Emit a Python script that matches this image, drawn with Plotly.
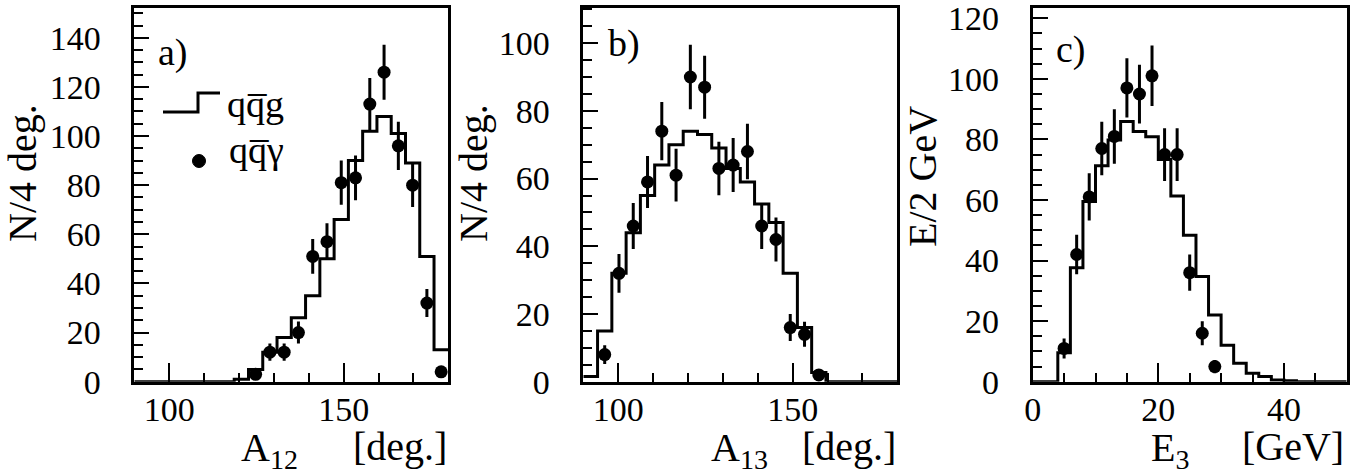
import numpy as np
import plotly.graph_objects as go

# ---------------- data ----------------
# a) opening angle A12: 22 bins over 90..180 deg
a_lo, a_hi, a_nbins = 90.0, 180.0, 22
qqg_a = [0, 0, 0, 0, 0, 0, 0, 1, 5, 12, 18, 26, 35, 50, 66, 90, 102, 108, 101, 89, 51, 13]
qqgam_a = [None, None, None, None, None, None, None, None,
           3, 12, 12, 20, 51, 57, 81, 83, 113, 126, 96, 80, 32, 4]
qqgam_a_err = [None, None, None, None, None, None, None, None,
               1.7, 3.5, 3.5, 4.5, 7.1, 7.5, 9.0, 9.1, 10.6, 11.2, 9.8, 8.9, 5.7, 2.0]

# b) opening angle A13: 22 bins over 90..180 deg
b_lo, b_hi, b_nbins = 90.0, 180.0, 22
qqg_b = [1.5, 15, 32, 44, 55, 64, 70, 74, 73, 69, 63, 59, 52.5, 47, 32, 16, 2.7, 0, 0, 0, 0, 0]
qqgam_b = [None, 8, 32, 46, 59, 74, 61, 90, 87, 63, 64, 68, 46, 42, 16, 14, 2,
           None, None, None, None, None]
qqgam_b_err = [None, 2.8, 5.7, 6.8, 7.7, 8.6, 7.8, 9.5, 9.3, 7.9, 8.0, 8.2, 6.8, 6.5, 4.0, 3.7, 1.4,
               None, None, None, None, None]

# c) energy of the third jet E3: 25 bins over 0..50 GeV
c_lo, c_hi, c_nbins = 0.0, 50.0, 25
qqg_c = [0, 0, 9.6, 37.6, 59.5, 71.3, 79.8, 85.9, 82.6, 80.9, 73.4, 61.3, 48.4, 34.7,
         22, 12, 6.1, 2.8, 1.7, 0.6, 0.3, 0, 0, 0, 0]
qqgam_c = [None, None, 11, 42, 61, 77, 81, 97, 95, 101, 75, 75, 36, 16, 5,
           None, None, None, None, None, None, None, None, None, None]
qqgam_c_err = [None, None, 3.3, 6.5, 7.8, 8.8, 9.0, 9.8, 9.7, 10.0, 8.7, 8.7, 6.0, 4.0, 2.2,
               None, None, None, None, None, None, None, None, None, None]

a_ticks = [100, 150]
b_ticks = [100, 150]
c_ticks = [0, 20, 40]

# ---------------- layout helpers ----------------
W, H = 1366, 475
FONT = "Liberation Serif, Times New Roman, serif"


def fx(p):
    return p / W


def fy(p):
    return 1 - p / H


def edges(lo, hi, n):
    return np.linspace(lo, hi, n + 1)


def centers(lo, hi, n):
    e = edges(lo, hi, n)
    return 0.5 * (e[:-1] + e[1:])


fig = go.Figure()

panels = [
    ("x", "y", a_lo, a_hi, a_nbins, qqg_a, qqgam_a, qqgam_a_err),
    ("x2", "y2", b_lo, b_hi, b_nbins, qqg_b, qqgam_b, qqgam_b_err),
    ("x3", "y3", c_lo, c_hi, c_nbins, qqg_c, qqgam_c, qqgam_c_err),
]

for xa, ya, lo, hi, n, hist, pts, err in panels:
    e = edges(lo, hi, n)
    # histogram outline drawn as a step line
    fig.add_trace(go.Scatter(
        x=list(e), y=list(hist) + [hist[-1]],
        mode="lines", line=dict(shape="hv", color="black", width=3),
        xaxis=xa, yaxis=ya, showlegend=False, hoverinfo="skip", cliponaxis=True,
    ))
    # data points with error bars
    fig.add_trace(go.Scatter(
        x=list(centers(lo, hi, n)), y=pts,
        mode="markers", marker=dict(color="black", size=13, symbol="circle"),
        error_y=dict(type="data", array=err, visible=True, color="black",
                     thickness=3, width=0),
        xaxis=xa, yaxis=ya, showlegend=False, cliponaxis=False,
    ))

xdom = [(134.3, 448.3), (583.3, 897.3), (1032.7, 1346.7)]
ydom = [fy(381.7), fy(8.3)]
xranges = [(a_lo, a_hi), (b_lo, b_hi), (c_lo, c_hi)]
yranges = [(0, 152), (0, 110.3), (0, 123.3)]
xtickvals = [a_ticks, b_ticks, c_ticks]
xminor = [10, 10, 5]

tickfont = dict(family=FONT, size=34, color="black")

layout = dict(
    width=W, height=H,
    margin=dict(l=0, r=0, t=0, b=0, autoexpand=False),
    paper_bgcolor="white", plot_bgcolor="white",
    showlegend=False,
)
for i in range(3):
    sfx = "" if i == 0 else str(i + 1)
    layout["xaxis" + sfx] = dict(
        domain=[fx(xdom[i][0]), fx(xdom[i][1])],
        range=list(xranges[i]), anchor="y" + sfx,
        tickmode="array", tickvals=xtickvals[i],
        ticks="inside", ticklen=19, tickwidth=2, tickcolor="black",
        minor=dict(dtick=xminor[i], tick0=0, ticks="inside", ticklen=9,
                   tickwidth=2, tickcolor="black", showgrid=False),
        showline=True, linewidth=3, linecolor="black", mirror=True,
        showgrid=False, zeroline=False, tickfont=tickfont, automargin=False,
        ticklabelstandoff=-5,
    )
    layout["yaxis" + sfx] = dict(
        domain=ydom, range=list(yranges[i]), anchor="x" + sfx,
        dtick=20, tick0=0, ticksuffix="\u2002\u2009",
        ticks="inside", ticklen=15, tickwidth=2, tickcolor="black",
        minor=dict(dtick=5, tick0=0, ticks="inside", ticklen=9,
                   tickwidth=2, tickcolor="black", showgrid=False),
        showline=True, linewidth=3, linecolor="black", mirror=True,
        showgrid=False, zeroline=False, tickfont=tickfont, automargin=False,
    )
fig.update_layout(**layout)

# ---------------- text ----------------
anns = []


def text(s, x, y, size=40, xanchor="left", yanchor="middle", angle=0):
    anns.append(dict(text=s, x=fx(x), y=fy(y), xref="paper", yref="paper",
                     xanchor=xanchor, yanchor=yanchor, showarrow=False,
                     textangle=angle, borderpad=0,
                     font=dict(family=FONT, size=size, color="black")))


# panel tags
text("a)", 157, 53, size=38)
text("b)", 607, 44, size=38)
text("c)", 1055, 49, size=38)

# y titles
text("N/4 deg.", 22, 173, angle=-90, xanchor="center")
text("N/4 deg.", 473, 173, angle=-90, xanchor="center")
text("E/2 GeV", 922, 177, angle=-90, xanchor="center")

# x titles
text("A<sub>12</sub>", 240, 450)
text("[deg.]", 448, 446, xanchor="right")
text("A<sub>13</sub>", 710, 450)
text("[deg.]", 897, 446, xanchor="right")
text("E<sub>3</sub>", 1150, 450)
text("[GeV]", 1345, 446, xanchor="right")

# legend texts
text("qq\u0305g", 226, 104, size=38)
text("qq\u0305\u03b3", 228, 150, size=38)

fig.update_layout(annotations=anns)

# legend glyphs: step outline and dot
fig.add_shape(type="path", xref="paper", yref="paper",
              path=f"M {fx(163)} {fy(112)} L {fx(198)} {fy(112)} L {fx(198)} {fy(93)} L {fx(220)} {fy(93)}",
              line=dict(color="black", width=3))
fig.add_shape(type="circle", xref="paper", yref="paper",
              x0=fx(192.5), x1=fx(205.5), y0=fy(167.5), y1=fy(154.5),
              fillcolor="black", line=dict(color="black", width=1))

fig.write_html(
    "out.html",
    post_script="document.body.style.margin='0';document.body.style.overflow='hidden';",
)
